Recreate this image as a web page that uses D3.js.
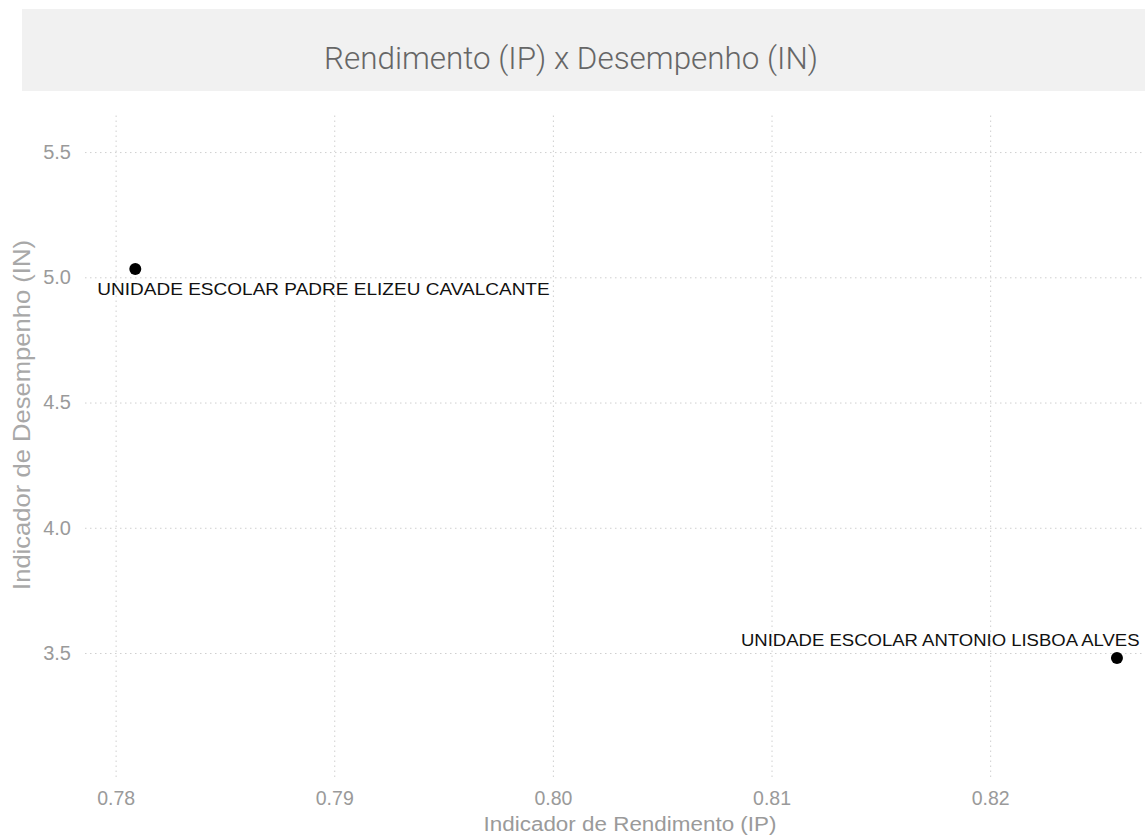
<!DOCTYPE html>
<html>
<head>
<meta charset="utf-8">
<script src="https://cdn.jsdelivr.net/npm/d3@7"></script>
<style>
  html, body { margin: 0; padding: 0; background: #ffffff; }
  svg { display: block; }
</style>
</head>
<body>
<svg id="chart" width="1145" height="836"></svg>
<script>
// ---- data ----
const schools = ["UNIDADE ESCOLAR PADRE ELIZEU CAVALCANTE", "UNIDADE ESCOLAR ANTONIO LISBOA ALVES"];
const ipValues = [0.7809, 0.8258];
const inValues = [5.033, 3.48];
const xTicks = [0.78, 0.79, 0.80, 0.81, 0.82];
const yTicks = [3.5, 4.0, 4.5, 5.0, 5.5];
const titleText = "Rendimento (IP) x Desempenho (IN)";
const xTitle = "Indicador de Rendimento (IP)";
const yTitle = "Indicador de Desempenho (IN)";

const W = 1145, H = 836;
const panel = { left: 85, right: 1176, top: 115, bottom: 777 };
const svg = d3.select("#chart");
const sans = "'Liberation Sans', Arial, Helvetica, sans-serif";

svg.append("rect").attr("width", W).attr("height", H).attr("fill", "#ffffff");

// fit a text element horizontally to a target width
function fitText(sel, cx, cy, targetW, rotate) {
  const len = sel.node().getComputedTextLength();
  const s = targetW / len;
  sel.attr("transform", `translate(${cx},${cy})${rotate ? " rotate(-90)" : ""} scale(${s},1)`);
}

// title band
svg.append("rect").attr("x", 22).attr("y", 9).attr("width", W - 22).attr("height", 82).attr("fill", "#f1f1f1");
const title = svg.append("text")
  .attr("text-anchor", "middle")
  .attr("font-family", "Roboto, sans-serif")
  .attr("font-weight", 300)
  .attr("font-size", 31.5)
  .attr("fill", "#666666")
  .text(titleText);
fitText(title, 571, 68.5, 494, false);

const x = d3.scaleLinear().domain([0.7786, 0.8285]).range([panel.left, panel.right]);
const y = d3.scaleLinear().domain([3.005, 5.648]).range([panel.bottom, panel.top]);

// x axis with gridlines
const gx = svg.append("g").attr("transform", `translate(0,${panel.bottom})`)
  .call(d3.axisBottom(x).tickValues(xTicks).tickFormat(d3.format(".2f"))
    .tickSize(-(panel.bottom - panel.top)).tickPadding(14));
gx.select(".domain").remove();
gx.selectAll(".tick line").attr("stroke", "#cfcfcf").attr("stroke-dasharray", "1.5,3.5");
gx.selectAll(".tick text").attr("font-family", sans).attr("font-size", 19.5).attr("fill", "#9a9a9a");

// y axis with gridlines
const gy = svg.append("g").attr("transform", `translate(${panel.left},0)`)
  .call(d3.axisLeft(y).tickValues(yTicks).tickFormat(d3.format(".1f"))
    .tickSize(-(panel.right - panel.left)).tickPadding(14));
gy.select(".domain").remove();
gy.selectAll(".tick line").attr("stroke", "#cfcfcf").attr("stroke-dasharray", "1.5,3.5");
gy.selectAll(".tick text").attr("font-family", sans).attr("font-size", 20).attr("fill", "#9a9a9a");

// axis titles
const xt = svg.append("text")
  .attr("text-anchor", "middle").attr("font-family", sans).attr("font-size", 21)
  .attr("fill", "#9a9a9a").text(xTitle);
fitText(xt, 630, 831, 293, false);
const yt = svg.append("text")
  .attr("text-anchor", "middle").attr("font-family", sans).attr("font-size", 23)
  .attr("fill", "#a8a8a8").text(yTitle);
fitText(yt, 30, 415, 350, true);

// points
const data = schools.map((s, i) => ({ name: s, ip: ipValues[i], in: inValues[i] }));
svg.selectAll("circle.pt").data(data).enter().append("circle")
  .attr("class", "pt")
  .attr("cx", d => x(d.ip)).attr("cy", d => y(d.in)).attr("r", 6)
  .attr("fill", "#000000");

// labels (offset relative to point)
const labelOffsets = [{ dx: -38, dy: 26, sx: 1.12 }, { dx: -376, dy: -12, sx: 1.09 }];
svg.selectAll("text.lbl").data(data).enter().append("text")
  .attr("class", "lbl")
  .attr("transform", (d, i) => `translate(${x(d.ip) + labelOffsets[i].dx},${y(d.in) + labelOffsets[i].dy}) scale(${labelOffsets[i].sx},1)`)
  .attr("text-anchor", "start")
  .attr("font-family", sans).attr("font-size", 17).attr("fill", "#111111")
  .text(d => d.name);
</script>
</body>
</html>
